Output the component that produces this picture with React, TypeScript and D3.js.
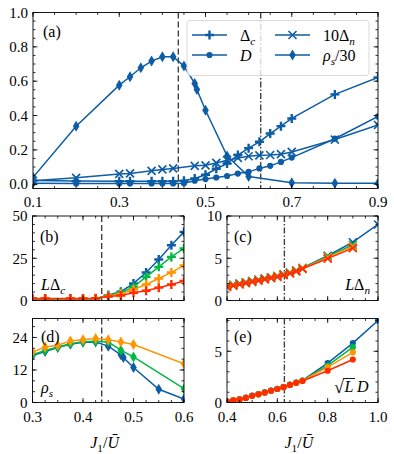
import { useEffect, useRef } from 'react';
import * as d3 from 'd3';

const W = 394, H = 454;
const BLUE = '#0C5DA5', GREEN = '#00B945', ORANGE = '#FF9500', RED = '#FF2C00';
const FONT = '"Liberation Serif", "DejaVu Serif", serif';

// transition points
const J_C = 0.437;
const J_N = 0.628;

// panel (a)
const aDcJ = [0.1, 0.2, 0.3, 0.325, 0.375, 0.4, 0.425, 0.45, 0.475, 0.5, 0.525, 0.55, 0.575, 0.6, 0.625, 0.65, 0.675, 0.7, 0.8, 0.9];
const aDc = [0.022, 0.018, 0.017, 0.017, 0.017, 0.017, 0.017, 0.02, 0.033, 0.055, 0.09, 0.12, 0.17, 0.21, 0.247, 0.295, 0.338, 0.383, 0.523, 0.622];
const aD = [0.005, 0.004, 0.004, 0.004, 0.004, 0.004, 0.004, 0.006, 0.02, 0.03, 0.039, 0.048, 0.062, 0.072, 0.092, 0.107, 0.13, 0.155, 0.265, 0.395];
const aDnJ = [0.1, 0.2, 0.3, 0.325, 0.375, 0.4, 0.425, 0.475, 0.5, 0.525, 0.55, 0.575, 0.6, 0.625, 0.65, 0.675, 0.7, 0.8, 0.9];
const aDn = [0.02, 0.037, 0.06, 0.063, 0.078, 0.086, 0.092, 0.107, 0.11, 0.124, 0.14, 0.153, 0.163, 0.168, 0.17, 0.175, 0.188, 0.26, 0.345];
const aRhoJ = [0.1, 0.2, 0.3, 0.325, 0.35, 0.375, 0.4, 0.425, 0.45, 0.475, 0.48, 0.5, 0.55, 0.6, 0.7, 0.8, 0.9];
const aRho = [0.04, 0.338, 0.577, 0.626, 0.678, 0.717, 0.742, 0.742, 0.688, 0.587, 0.552, 0.431, 0.165, 0.045, 0.008, 0.005, 0.005];

// panel (b) L*Delta_c
const bJ = [0.3, 0.325, 0.375, 0.4, 0.425, 0.45, 0.475, 0.5, 0.525, 0.55, 0.575, 0.6];
const bBlue = [0.8, 0.8, 0.8, 0.8, 0.9, 3.2, 5.2, 10.1, 16.6, 24.3, 32.7, 40.6];
const bGreen = [0.9, 0.9, 0.9, 0.9, 1.0, 3.0, 4.6, 8.1, 14.0, 19.9, 25.8, 30.8];
const bOrange = [1.0, 1.0, 1.0, 1.0, 1.1, 2.7, 4.0, 6.5, 9.5, 13.0, 16.6, 20.8];
const bRed = [1.2, 1.2, 1.2, 1.2, 1.3, 2.3, 3.0, 4.6, 5.8, 7.6, 9.5, 11.5];

// panel (c) L*Delta_n
const cJ = [0.4, 0.425, 0.45, 0.475, 0.5, 0.525, 0.55, 0.575, 0.6, 0.625, 0.65, 0.675, 0.7, 0.8, 0.9];
const cBlueJ = [...cJ, 1.0];
const cBlue = [1.7, 1.85, 2.0, 2.15, 2.3, 2.45, 2.6, 2.75, 2.9, 3.1, 3.3, 3.55, 3.85, 5.3, 6.9, 9.0];
const cGreen = [1.7, 1.85, 2.0, 2.15, 2.3, 2.45, 2.6, 2.75, 2.9, 3.1, 3.3, 3.55, 3.85, 5.2, 6.6];
const cOrange = [1.65, 1.8, 1.95, 2.1, 2.25, 2.4, 2.55, 2.7, 2.85, 3.05, 3.25, 3.5, 3.8, 5.1, 6.4];
const cRed = [1.6, 1.75, 1.9, 2.05, 2.2, 2.35, 2.5, 2.65, 2.8, 3.0, 3.2, 3.45, 3.75, 4.95, 6.2];

// panel (d) rho_s
const dJ = [0.3, 0.325, 0.35, 0.375, 0.4, 0.425, 0.45, 0.475, 0.5, 0.6];
const dOrange = [18.6, 20.5, 21.1, 22.7, 23.2, 23.6, 23.2, 22.3, 21.4, 14.3];
const dGreen = [17.6, 19.2, 20.5, 21.7, 22.4, 22.6, 22.3, 19.3, 16.8, 5.1];
const dBlueJ = [0.3, 0.325, 0.35, 0.375, 0.4, 0.425, 0.45, 0.475, 0.48, 0.5, 0.55, 0.6];
const dBlue = [17.3, 18.8, 20.3, 21.5, 22.2, 22.3, 20.8, 17.6, 16.6, 12.9, 4.9, 1.3];

// panel (e) sqrt(L)*D
const eJ = [0.4, 0.425, 0.45, 0.475, 0.5, 0.525, 0.55, 0.575, 0.6, 0.625, 0.65, 0.675, 0.7, 0.8, 0.9];
const eBlueJ = [...eJ, 1.0];
const eBlue = [0.1, 0.2, 0.32, 0.47, 0.67, 0.82, 0.99, 1.17, 1.34, 1.52, 1.74, 1.95, 2.15, 3.85, 5.8, 8.0];
const eGreen = [0.1, 0.2, 0.31, 0.46, 0.66, 0.81, 0.98, 1.16, 1.33, 1.51, 1.73, 1.94, 2.15, 3.6, 5.4];
const eOrange = [0.1, 0.2, 0.3, 0.45, 0.65, 0.8, 0.97, 1.15, 1.32, 1.5, 1.72, 1.93, 2.12, 3.45, 4.9];
const eRed = [0.1, 0.2, 0.3, 0.45, 0.65, 0.8, 0.97, 1.15, 1.32, 1.5, 1.72, 1.92, 2.1, 3.1, 4.2];

type Panel = { l: number; r: number; t: number; b: number };
const PA: Panel = { l: 33, r: 378, t: 12.5, b: 188.5 };
const PB: Panel = { l: 32.5, r: 184, t: 216, b: 300.5 };
const PC: Panel = { l: 227, r: 378, t: 216, b: 300.5 };
const PD: Panel = { l: 32.5, r: 184, t: 318.5, b: 402.5 };
const PE: Panel = { l: 227, r: 378, t: 318.5, b: 402.5 };

const MARKS: Record<string, { d: string; filled: boolean; sw: number }> = {
  plus: { d: 'M-4.5,0H4.5M0,-4.5V4.5', filled: false, sw: 2.4 },
  circle: { d: d3.symbol(d3.symbolCircle, 30)() as string, filled: true, sw: 0 },
  diamond: { d: 'M0,-5.5L3.3,0L0,5.5L-3.3,0Z', filled: true, sw: 0 },
  cross: { d: 'M-4,-4L4,4M-4,4L4,-4', filled: false, sw: 1.6 },
};

type Part = { t: string; i?: boolean; sub?: boolean };

function mathText(parent: any, x: number, y: number, parts: Part[], size: number, anchor = 'start') {
  const t = parent.append('text').attr('x', x).attr('y', y).attr('font-family', FONT)
    .attr('font-size', size).attr('text-anchor', anchor).attr('fill', '#000');
  let down = false;
  parts.forEach((p) => {
    const s = t.append('tspan').text(p.t);
    if (p.i) s.attr('font-style', 'italic');
    if (p.sub) {
      s.attr('font-size', size * 0.7);
      if (!down) s.attr('dy', size * 0.25);
      down = true;
    } else if (down) {
      s.attr('dy', -size * 0.25);
      down = false;
    }
  });
  return t;
}

export default function App() {
  const svgRef = useRef<SVGSVGElement>(null);

  useEffect(() => {
    const svg = d3.select(svgRef.current);
    svg.selectAll('*').remove();
    const defs = svg.append('defs');
    let clipId = 0;

    function makePanel(p: Panel, xd: [number, number], yd: [number, number]) {
      const x = d3.scaleLinear().domain(xd).range([p.l, p.r]);
      const y = d3.scaleLinear().domain(yd).range([p.b, p.t]);
      const id = `clip${clipId++}`;
      defs.append('clipPath').attr('id', id).append('rect')
        .attr('x', p.l).attr('y', p.t).attr('width', p.r - p.l).attr('height', p.b - p.t);
      const g = svg.append('g');
      const plot = g.append('g').attr('clip-path', `url(#${id})`);
      return { x, y, g, plot, p };
    }

    function vline(pan: any, j: number, dash: string) {
      pan.plot.append('line').attr('x1', pan.x(j)).attr('x2', pan.x(j))
        .attr('y1', pan.p.t).attr('y2', pan.p.b)
        .attr('stroke', '#404040').attr('stroke-width', 1.4).attr('stroke-dasharray', dash);
    }

    function series(pan: any, xs: number[], ys: number[], color: string, mark: string) {
      const pts: [number, number][] = xs.map((v, i) => [v, ys[i]]);
      const line = d3.line<[number, number]>().x((d) => pan.x(d[0])).y((d) => pan.y(d[1]));
      pan.plot.append('path').attr('d', line(pts)).attr('fill', 'none')
        .attr('stroke', color).attr('stroke-width', 1.5);
      const m = MARKS[mark];
      pan.plot.selectAll(null).data(pts).join('path')
        .attr('transform', (d: [number, number]) => `translate(${pan.x(d[0])},${pan.y(d[1])})`)
        .attr('d', m.d)
        .attr('fill', m.filled ? color : 'none')
        .attr('stroke', m.filled ? 'none' : color)
        .attr('stroke-width', m.sw);
    }

    function axes(pan: any, xMaj: number[], xMin: number[], yMaj: number[], yMin: number[],
      xLab: ((v: number) => string) | null, yLab: (v: number) => string, xLabY: number) {
      const { x, y, g, p } = pan;
      const tk = g.append('g').attr('stroke', '#000').attr('stroke-width', 0.8);
      const tick = (vals: number[], len: number) => {
        vals.forEach((v) => {
          const px = x(v);
          tk.append('line').attr('x1', px).attr('x2', px).attr('y1', p.b).attr('y2', p.b - len);
          tk.append('line').attr('x1', px).attr('x2', px).attr('y1', p.t).attr('y2', p.t + len);
        });
      };
      const ytick = (vals: number[], len: number) => {
        vals.forEach((v) => {
          const py = y(v);
          tk.append('line').attr('y1', py).attr('y2', py).attr('x1', p.l).attr('x2', p.l + len);
          tk.append('line').attr('y1', py).attr('y2', py).attr('x1', p.r).attr('x2', p.r - len);
        });
      };
      tick(xMin, 2.5); tick(xMaj, 4.5);
      ytick(yMin, 2.5); ytick(yMaj, 4.5);
      g.append('rect').attr('x', p.l).attr('y', p.t).attr('width', p.r - p.l).attr('height', p.b - p.t)
        .attr('fill', 'none').attr('stroke', '#000').attr('stroke-width', 0.9);
      if (xLab) {
        xMaj.forEach((v) => {
          g.append('text').attr('x', x(v)).attr('y', xLabY).attr('text-anchor', 'middle')
            .attr('font-family', FONT).attr('font-size', 15).text(xLab(v));
        });
      }
      yMaj.forEach((v) => {
        g.append('text').attr('x', p.l - 5).attr('y', y(v)).attr('dy', '0.35em').attr('text-anchor', 'end')
          .attr('font-family', FONT).attr('font-size', 15).text(yLab(v));
      });
    }

    const f1 = d3.format('.1f');
    const f0 = d3.format('d');

    // (a)
    const a = makePanel(PA, [0.1, 0.9], [-0.025, 1.0]);
    vline(a, J_C, '6,3');
    vline(a, J_N, '6,2,1.5,2');
    series(a, aDcJ, aDc, BLUE, 'plus');
    series(a, aDcJ, aD, BLUE, 'circle');
    series(a, aDnJ, aDn, BLUE, 'cross');
    series(a, aRhoJ, aRho, BLUE, 'diamond');
    axes(a, [0.1, 0.3, 0.5, 0.7, 0.9], d3.range(0.1, 0.901, 0.05), d3.range(0, 1.001, 0.2), d3.range(0, 1.001, 0.05),
      f1, f1, 207);
    mathText(a.g, 43, 37, [{ t: '(a)' }], 16);

    // legend
    const lg = a.g.append('g');
    lg.append('rect').attr('x', 187).attr('y', 20.5).attr('width', 182).attr('height', 55).attr('rx', 3)
      .attr('fill', '#fff').attr('fill-opacity', 0.8).attr('stroke', '#d0d0d0').attr('stroke-width', 0.8);
    const legendItems: { mark: string; x: number; y: number; label: Part[] }[] = [
      { mark: 'plus', x: 192, y: 35, label: [{ t: 'Δ' }, { t: 'c', i: true, sub: true }] },
      { mark: 'circle', x: 192, y: 55, label: [{ t: 'D', i: true }] },
      { mark: 'cross', x: 275, y: 35, label: [{ t: '10Δ' }, { t: 'n', i: true, sub: true }] },
      { mark: 'diamond', x: 275, y: 55, label: [{ t: 'ρ', i: true }, { t: 's', i: true, sub: true }, { t: '/30' }] },
    ];
    legendItems.forEach((it) => {
      lg.append('line').attr('x1', it.x).attr('x2', it.x + 35).attr('y1', it.y).attr('y2', it.y)
        .attr('stroke', BLUE).attr('stroke-width', 1.5);
      const m = MARKS[it.mark];
      lg.append('path').attr('transform', `translate(${it.x + 17.5},${it.y})`).attr('d', m.d)
        .attr('fill', m.filled ? BLUE : 'none').attr('stroke', m.filled ? 'none' : BLUE).attr('stroke-width', m.sw);
      mathText(lg, it.x + 48, it.y + 5.5, it.label, 16);
    });

    // (b)
    const b = makePanel(PB, [0.3, 0.6], [0, 50]);
    vline(b, J_C, '6,3');
    series(b, bJ, bBlue, BLUE, 'plus');
    series(b, bJ, bGreen, GREEN, 'plus');
    series(b, bJ, bOrange, ORANGE, 'plus');
    series(b, bJ, bRed, RED, 'plus');
    axes(b, [0.3, 0.4, 0.5, 0.6], d3.range(0.3, 0.601, 0.025), [0, 25, 50], d3.range(0, 50.1, 5), null, f0, 0);
    mathText(b.g, 40, 242, [{ t: '(b)' }], 16);
    mathText(b.g, 41, 290, [{ t: 'L', i: true }, { t: 'Δ' }, { t: 'c', i: true, sub: true }], 16);

    // (c)
    const c = makePanel(PC, [0.4, 1.0], [0, 10]);
    vline(c, J_N, '6,2,1.5,2');
    series(c, cBlueJ, cBlue, BLUE, 'cross');
    series(c, cJ, cGreen, GREEN, 'cross');
    series(c, cJ, cOrange, ORANGE, 'cross');
    series(c, cJ, cRed, RED, 'cross');
    axes(c, [0.4, 0.6, 0.8, 1.0], d3.range(0.4, 1.001, 0.05), [0, 5, 10], d3.range(0, 10.01, 1), null, f0, 0);
    mathText(c.g, 234, 242, [{ t: '(c)' }], 16);
    mathText(c.g, 370, 290, [{ t: 'L', i: true }, { t: 'Δ' }, { t: 'n', i: true, sub: true }], 16, 'end');

    // (d)
    const dd = makePanel(PD, [0.3, 0.6], [0, 31]);
    vline(dd, J_C, '6,3');
    series(dd, dBlueJ, dBlue, BLUE, 'diamond');
    series(dd, dJ, dGreen, GREEN, 'diamond');
    series(dd, dJ, dOrange, ORANGE, 'diamond');
    axes(dd, [0.3, 0.4, 0.5, 0.6], d3.range(0.3, 0.601, 0.025), [0, 12, 24], d3.range(0, 31, 4), f1, f0, 422);
    mathText(dd.g, 41, 342, [{ t: '(d)' }], 16);
    mathText(dd.g, 41, 393, [{ t: 'ρ', i: true }, { t: 's', i: true, sub: true }], 16);

    // (e)
    const e = makePanel(PE, [0.4, 1.0], [0, 8.2]);
    vline(e, J_N, '6,2,1.5,2');
    series(e, eBlueJ, eBlue, BLUE, 'circle');
    series(e, eJ, eGreen, GREEN, 'circle');
    series(e, eJ, eOrange, ORANGE, 'circle');
    series(e, eJ, eRed, RED, 'circle');
    axes(e, [0.4, 0.6, 0.8, 1.0], d3.range(0.4, 1.001, 0.05), [0, 5], d3.range(0, 8.2, 1), f1, f0, 422);
    mathText(e.g, 234, 342, [{ t: '(e)' }], 16);
    mathText(e.g, 334, 393, [{ t: '√' }], 18);
    mathText(e.g, 344.5, 392, [{ t: 'L', i: true }], 16);
    e.g.append('line').attr('x1', 343).attr('x2', 355).attr('y1', 378.5).attr('y2', 378.5)
      .attr('stroke', '#000').attr('stroke-width', 0.9);
    mathText(e.g, 357, 392, [{ t: 'D', i: true }], 16);

    // x labels
    [PD, PE].forEach((p) => {
      mathText(svg, (p.l + p.r) / 2 - 18, 448, [{ t: 'J', i: true }, { t: '1', sub: true }, { t: '/' }, { t: 'Ū', i: true }], 16);
    });
  }, []);

  return (
    <svg ref={svgRef} width={W} height={H} style={{ position: 'absolute', left: 0, top: 0, background: '#fff' }} />
  );
}
